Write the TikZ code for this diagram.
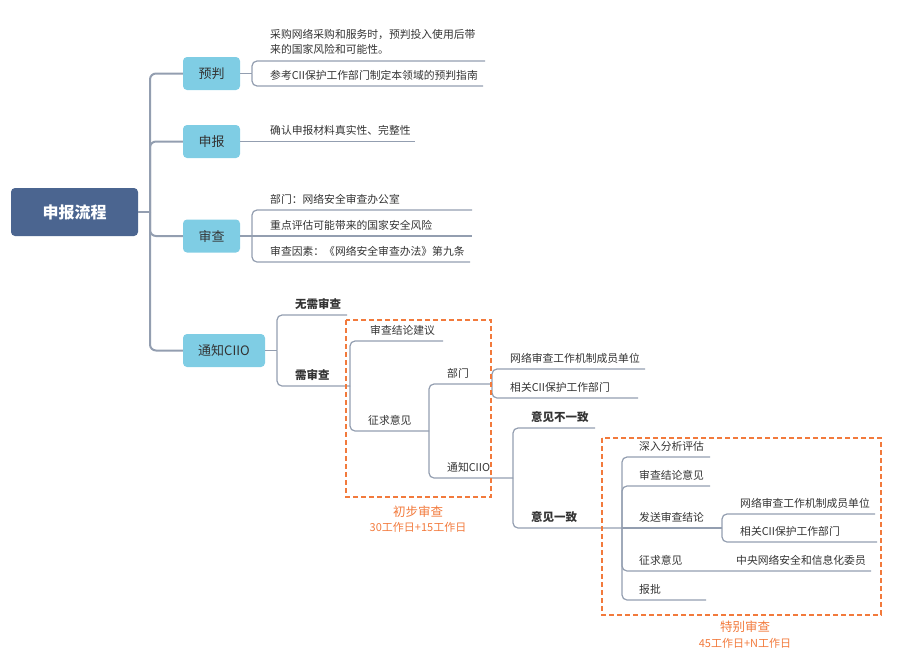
\documentclass[tikz,border=0pt]{standalone}
\usepackage{fontspec}
\setmainfont{Noto Sans CJK SC}
\definecolor{rootblue}{HTML}{4B6590}
\definecolor{branchblue}{HTML}{7FCDE4}
\definecolor{linegray}{HTML}{939EB0}
\definecolor{textdark}{HTML}{333333}
\definecolor{orangeline}{HTML}{F27A3C}
\tikzset{
  rootbox/.style={fill=rootblue,rounded corners=4pt,text=white,font=\bfseries\fontsize{16}{18}\selectfont,minimum width=127pt,minimum height=48pt,inner sep=0pt},
  branchbox/.style={fill=branchblue,rounded corners=4pt,text=textdark,font=\fontsize{13}{15}\selectfont,minimum width=57pt,minimum height=33pt,inner sep=0pt},
  leaf/.style={anchor=base west,inner sep=0pt,text=textdark,font=\fontsize{10.8}{15}\selectfont},
  boldleaf/.style={leaf,font=\bfseries\fontsize{11.5}{15}\selectfont},
  trunk/.style={draw=linegray,line width=2pt,rounded corners=6pt},
  conn/.style={draw=linegray,line width=1.2pt,rounded corners=5pt},
  stagebox/.style={draw=orangeline,line width=1.5pt,dash pattern=on 5pt off 3pt},
  stagelabel/.style={text=orangeline,inner sep=0pt,font=\fontsize{12.5}{14}\selectfont},
  stagetime/.style={text=orangeline,inner sep=0pt,font=\fontsize{11}{12}\selectfont}
}
\begin{document}
\begin{tikzpicture}[x=1pt,y=-1pt]
\useasboundingbox (0,0) rectangle (898,659);

% root and branches
\node[rootbox] (root) at (74.5,212) {申报流程};
\node[branchbox] (yupan) at (211.5,73.5) {预判};
\node[branchbox] (shenbao) at (211.5,141.5) {申报};
\node[branchbox] (shencha) at (211.5,236) {审查};
\node[branchbox,minimum width=82pt] (tongzhi) at (224,350.5) {通知CIIO};

\coordinate (t) at (150,212);
\draw[trunk] (root.east) -- (t);
\draw[trunk] (t) |- (yupan.west);
\draw[trunk] (t) |- (shenbao.west);
\draw[trunk] (t) |- (shencha.west);
\draw[trunk] (t) |- (tongzhi.west);

% 预判
\coordinate (b1) at (252,73.5);
\node[leaf,anchor=south west,align=left] (y1) at (270,54.5) {采购网络采购和服务时，预判投入使用后带\\来的国家风险和可能性。};
\node[leaf] (y2) at (270,79) {参考CII保护工作部门制定本领域的预判指南};
\coordinate (y1e) at (485,61);
\coordinate (y2e) at (483,86);
\draw[conn] (yupan.east) -- (b1);
\draw[conn] (b1) |- (y1e);
\draw[conn] (b1) |- (y2e);

% 申报
\node[leaf] (s1) at (270,134.5) {确认申报材料真实性、完整性};
\coordinate (s1e) at (415,141.5);
\draw[conn] (shenbao.east) -- (s1e);

% 审查
\coordinate (b2) at (252,236);
\node[leaf] (c1) at (270,203) {部门：网络安全审查办公室};
\node[leaf] (c2) at (270,229) {重点评估可能带来的国家安全风险};
\node[leaf] (c3) at (270,255) {审查因素：《网络安全审查办法》第九条};
\coordinate (c1e) at (472,210);
\coordinate (c2e) at (472,236);
\coordinate (c3e) at (470,262);
\draw[conn] (shencha.east) -- (b2);
\draw[conn] (b2) |- (c1e);
\draw[conn] (b2) -- (c2e);
\draw[conn] (b2) |- (c3e);

% 通知CIIO
\coordinate (b3) at (277,350.5);
\node[boldleaf] (n1) at (295,308) {无需审查};
\node[boldleaf] (n2) at (295,379) {需审查};
\coordinate (n1e) at (347,315);
\coordinate (b4) at (350,386);
\draw[conn] (tongzhi.east) -- (b3);
\draw[conn] (b3) |- (n1e);
\draw[conn] (b3) |- (b4);

% 需审查
\node[leaf] (x1) at (370,334) {审查结论建议};
\node[leaf] (x2) at (368,424) {征求意见};
\coordinate (x1e) at (443,341);
\coordinate (b5) at (429,431);
\draw[conn] (b4) |- (x1e);
\draw[conn] (b4) |- (b5);

% 征求意见
\node[leaf] (z1) at (447,377) {部门};
\node[leaf] (z2) at (447,471) {通知CIIO};
\coordinate (b6) at (492,384);
\coordinate (b7) at (513,478);
\draw[conn] (b5) |- (b6);
\draw[conn] (b5) |- (b7);

% 部门
\node[leaf] (d1) at (510,362) {网络审查工作机制成员单位};
\node[leaf] (d2) at (510,391) {相关CII保护工作部门};
\coordinate (d1e) at (645,369);
\coordinate (d2e) at (638,398);
\draw[conn] (b6) |- (d1e);
\draw[conn] (b6) |- (d2e);

% 通知CIIO (inner)
\node[boldleaf] (v1) at (531,421) {意见不一致};
\node[boldleaf] (v2) at (531,521) {意见一致};
\coordinate (v1e) at (595,428);
\coordinate (b8) at (622,528);
\draw[conn] (b7) |- (v1e);
\draw[conn] (b7) |- (b8);

% 意见一致
\node[leaf] (w1) at (639,450) {深入分析评估};
\node[leaf] (w2) at (639,479) {审查结论意见};
\node[leaf] (w3) at (639,521) {发送审查结论};
\node[leaf] (w4) at (639,564) {征求意见};
\node[leaf] (w5) at (639,593) {报批};
\node[leaf] (w4a) at (736,564) {中央网络安全和信息化委员};
\coordinate (w1e) at (710,457);
\coordinate (w2e) at (710,486);
\coordinate (b9) at (722,528);
\coordinate (w4e) at (871,571);
\coordinate (w5e) at (706,600);
\draw[conn] (b8) |- (w1e);
\draw[conn] (b8) |- (w2e);
\draw[conn] (b8) -- (b9);
\draw[conn] (b8) |- (w4e);
\draw[conn] (b8) |- (w5e);

% 发送审查结论
\node[leaf] (f1) at (740,507) {网络审查工作机制成员单位};
\node[leaf] (f2) at (740,535) {相关CII保护工作部门};
\coordinate (f1e) at (875,514);
\coordinate (f2e) at (877,542);
\draw[conn] (b9) |- (f1e);
\draw[conn] (b9) |- (f2e);

% stage boxes
\draw[stagebox] (346,320) rectangle (491,497);
\node[stagelabel] (p1) at (418,512) {初步审查};
\node[stagetime] (p1t) at (418,527) {30工作日+15工作日};
\draw[stagebox] (602,438) rectangle (881,615);
\node[stagelabel] (p2) at (745,627) {特别审查};
\node[stagetime] (p2t) at (745,643) {45工作日+N工作日};
\end{tikzpicture}
\end{document}
